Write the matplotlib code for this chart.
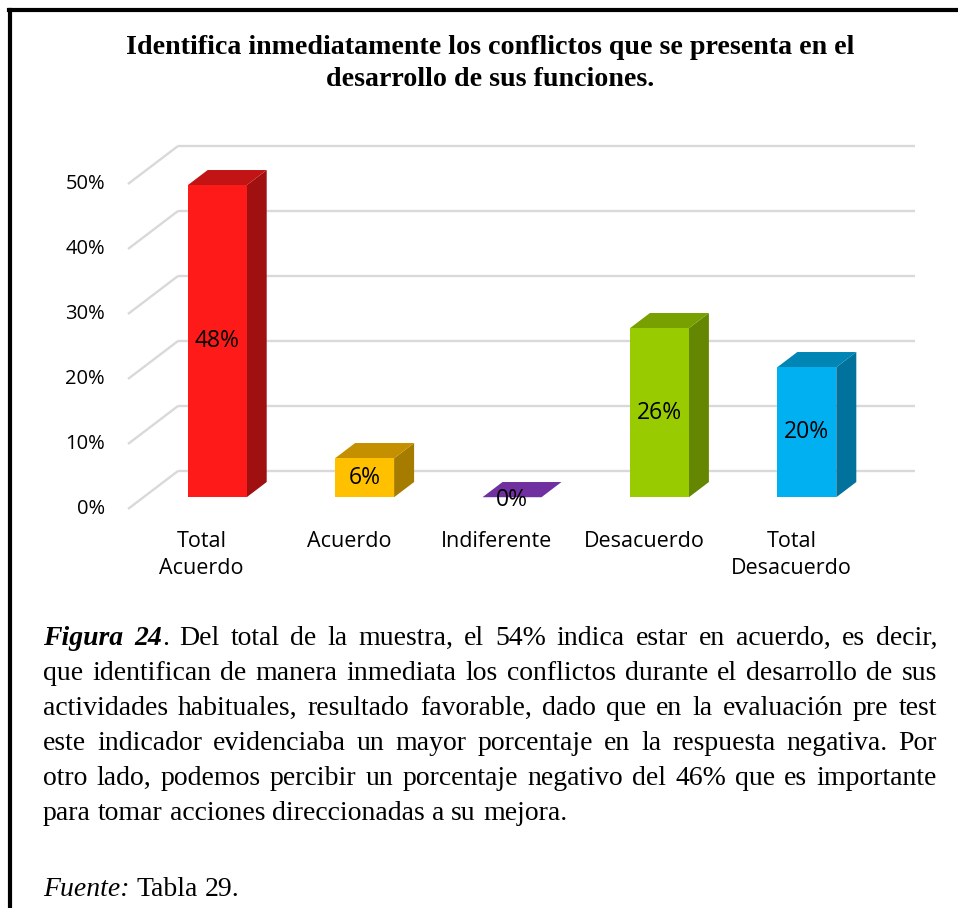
"""3D-style column chart with figure caption (Figura 24)."""

import matplotlib

matplotlib.use("Agg")
import matplotlib.pyplot as plt
from matplotlib.patches import Polygon
from matplotlib.lines import Line2D

# data
categories = ["Total\nAcuerdo", "Acuerdo", "Indiferente", "Desacuerdo", "Total\nDesacuerdo"]
values = [0.48, 0.06, 0.00, 0.26, 0.20]
value_labels = ["48%", "6%", "0%", "26%", "20%"]
yticks = [0.0, 0.1, 0.2, 0.3, 0.4, 0.5]
ytick_labels = ["0%", "10%", "20%", "30%", "40%", "50%"]

front_colors = ["#FF1A1A", "#FFC000", "#7030A0", "#99CC00", "#00B0F0"]
side_colors = ["#A11010", "#A67C00", "#4E2170", "#648600", "#00729C"]
top_colors = ["#C21414", "#C49000", "#7030A0", "#78A000", "#0085B5"]

title_lines = [
    "Identifica inmediatamente los conflictos que se presenta en el",
    "desarrollo de sus funciones.",
]

# caption words, hard line breaks as in the document
BI = dict(style="italic", weight="bold")
IT = dict(style="italic", weight="normal")
RG = dict(style="normal", weight="normal")
caption_lines = [
    [[("Figura", BI)], [("24", BI), (".", RG)]] + [[(w, RG)] for w in
     "Del total de la muestra, el 54% indica estar en acuerdo, es decir,".split()],
    [[(w, RG)] for w in "que identifican de manera inmediata los conflictos durante el desarrollo de sus".split()],
    [[(w, RG)] for w in "actividades habituales, resultado favorable, dado que en la evaluación pre test".split()],
    [[(w, RG)] for w in "este indicador evidenciaba un mayor porcentaje en la respuesta negativa. Por".split()],
    [[(w, RG)] for w in "otro lado, podemos percibir un porcentaje negativo del 46% que es importante".split()],
    [[(w, RG)] for w in "para tomar acciones direccionadas a su mejora.".split()],
]
source_line = [[("Fuente:", IT)], [("Tabla", RG)], [("29.", RG)]]

W, H = 958, 908
SERIF = "Liberation Serif"
SANS = "Open Sans"

# geometry (in data units of the chart axes)
CAT_PX = 147.4
DX = 50 / CAT_PX      # full floor depth, x
DY = 38 / 650         # full floor depth, y
D0, DD = 0.31, 0.40   # bar starts at this depth fraction, bar depth fraction
BAR_W = 59 / CAT_PX

fig = plt.figure(figsize=(W / 100, H / 100), dpi=100)
fig.patch.set_facecolor("white")

# axes box in pixels: x 100..940, y 120..520
ax = fig.add_axes([100 / W, 1 - 520 / H, 840 / W, 400 / H])
ax.set_xlim((100 - 128) / CAT_PX - 0.5, (940 - 128) / CAT_PX - 0.5)
ax.set_ylim((509 - 520) / 650, (509 - 120) / 650)
ax.axis("off")

x0, x1 = -0.5, len(categories) - 0.5
for t, lab in zip(yticks, ytick_labels):
    ax.plot([x0, x0 + DX], [t, t + DY], color="#D9D9D9", lw=1.7, zorder=1,
            solid_capstyle="butt")
    ax.plot([x0 + DX, x1 + DX], [t + DY, t + DY], color="#D9D9D9", lw=1.7,
            zorder=1, solid_capstyle="butt")
    ax.text(x0 - 23 / CAT_PX, t, lab, ha="right", va="center",
            fontsize=14.5, family=SANS, color="#000000")

for i, v in enumerate(values):
    xc = i + D0 * DX
    yb = D0 * DY
    xl, xr = xc - BAR_W / 2, xc + BAR_W / 2
    ddx, ddy = DD * DX, DD * DY
    if v > 0:
        ax.add_patch(Polygon([(xr, yb), (xr + ddx, yb + ddy), (xr + ddx, yb + v + ddy),
                              (xr, yb + v)], closed=True, facecolor=side_colors[i],
                             edgecolor="none", zorder=3))
        ax.add_patch(Polygon([(xl, yb), (xr, yb), (xr, yb + v), (xl, yb + v)],
                             closed=True, facecolor=front_colors[i],
                             edgecolor="none", zorder=4))
    ax.add_patch(Polygon([(xl, yb + v), (xr, yb + v), (xr + ddx, yb + v + ddy),
                          (xl + ddx, yb + v + ddy)], closed=True,
                         facecolor=top_colors[i], edgecolor="none", zorder=3))
    ax.text(xc, yb + v / 2 - (0.005 if v == 0 else 0), value_labels[i],
            ha="center", va="center", fontsize=16.5, family=SANS,
            color="#000000", zorder=5)
    ax.text(i, -0.034, categories[i], ha="center", va="top", fontsize=15.5,
            family=SANS, color="#000000", linespacing=1.38)

# title
for k, line in enumerate(title_lines):
    fig.text(490 / W, 1 - (47 + 33 * k) / H, line, ha="center", va="center",
             fontsize=20.2, family=SERIF, weight="bold")

# frame
fig.add_artist(Line2D([10 / W, 10 / W], [0, 1 - 10 / H], transform=fig.transFigure,
                      color="black", lw=3))
fig.add_artist(Line2D([8.5 / W, 1], [1 - 10 / H, 1 - 10 / H], transform=fig.transFigure,
                      color="black", lw=3))

# caption, justified
renderer = fig.canvas.get_renderer()
CAP_SIZE = 20.0


def seg_width(text, props):
    t = fig.text(0, 0, text, fontsize=CAP_SIZE, family=SERIF, **props)
    w = t.get_window_extent(renderer).width
    t.remove()
    return w


space_w = seg_width("a a", RG) - seg_width("aa", RG)


def draw_line(words, y_base, left, right, justify):
    widths = [[seg_width(s, p) for s, p in word] for word in words]
    total = sum(sum(ws) for ws in widths)
    gap = (right - left - total) / (len(words) - 1) if justify else space_w
    x = left
    for word, ws in zip(words, widths):
        for (s, p), w in zip(word, ws):
            fig.text(x / W, 1 - y_base / H, s, ha="left", va="baseline",
                     fontsize=CAP_SIZE, family=SERIF, **p)
            x += w
        x += gap


for k, words in enumerate(caption_lines):
    draw_line(words, 645 + 35 * k, 43, 937, justify=k < len(caption_lines) - 1)
draw_line(source_line, 896, 43, 937, justify=False)

fig.savefig("out.png", dpi=100)
